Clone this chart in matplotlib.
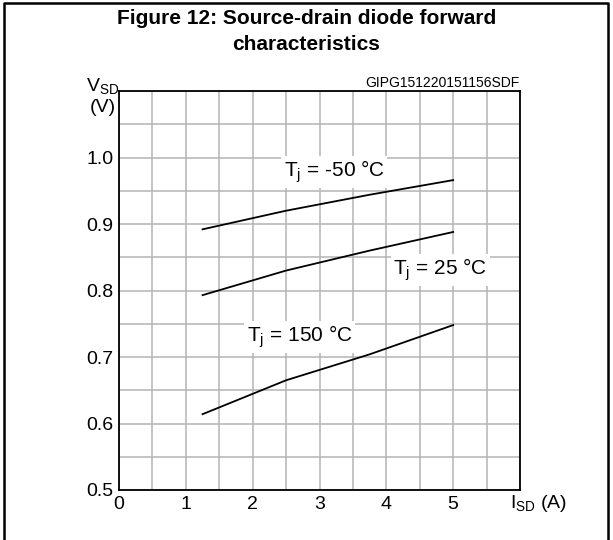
import numpy as np
import matplotlib.pyplot as plt
from matplotlib.lines import Line2D

plt.rcParams['font.family'] = ['Liberation Sans', 'DejaVu Sans']
plt.rcParams['mathtext.fontset'] = 'custom'
plt.rcParams['mathtext.rm'] = 'Liberation Sans'

# data
isd = [1.25, 2.5, 3.75, 5.0]
vsd_m50 = [0.892, 0.920, 0.944, 0.966]
vsd_25 = [0.793, 0.830, 0.860, 0.888]
vsd_150 = [0.614, 0.665, 0.704, 0.748]
x_ticks = [0, 1, 2, 3, 4, 5]
y_ticks = [0.5, 0.6, 0.7, 0.8, 0.9, 1.0]

fig = plt.figure(figsize=(6.13, 5.40), dpi=100)
ax = fig.add_axes([119 / 613, 1 - 490 / 540, 401 / 613, 399 / 540])

ax.set_xlim(0, 6)
ax.set_ylim(0.5, 1.1)
ax.set_xticks(np.arange(0, 6.01, 0.5), minor=True)
ax.set_yticks(np.arange(0.5, 1.101, 0.05), minor=True)
ax.set_xticks(x_ticks)
ax.set_yticks(y_ticks)
ax.set_xticklabels([str(t) for t in x_ticks])
ax.set_yticklabels(['%.1f' % t for t in y_ticks])
ax.grid(True, which='both', color='#b4b4b4', linewidth=1.1)
ax.set_axisbelow(True)
ax.tick_params(which='both', length=0, labelsize=14, pad=4)
for s in ax.spines.values():
    s.set_linewidth(1.3)

for v in [vsd_m50, vsd_25, vsd_150]:
    ax.plot(isd, v, color='black', linewidth=1.3)

box = dict(facecolor='white', edgecolor='none', pad=2)
ax.text(3.22, 0.978, r'$\mathregular{T_j}$ = -50 °C', fontsize=15,
        ha='center', va='center', bbox=box)
ax.text(4.81, 0.831, r'$\mathregular{T_j}$ = 25 °C', fontsize=15,
        ha='center', va='center', bbox=box)
ax.text(2.70, 0.730, r'$\mathregular{T_j}$ = 150 °C', fontsize=15,
        ha='center', va='center', bbox=box)

ax.text(1.0, 1.003, 'GIPG151220151156SDF', transform=ax.transAxes,
        fontsize=10, ha='right', va='bottom')
fig.text(103 / 613, 1 - 86 / 540, r'$\mathregular{V_{SD}}$', fontsize=14,
         ha='center', va='center')
fig.text(103 / 613, 1 - 107 / 540, '(V)', fontsize=14, ha='center', va='center')
fig.text(510 / 613, 1 - 503 / 540, r'$\mathregular{I_{SD}}$ (A)', fontsize=14,
         ha='left', va='center')

fig.text(0.5, 1 - 18 / 540, 'Figure 12: Source-drain diode forward',
         fontsize=15, fontweight='bold', ha='center', va='center')
fig.text(0.5, 1 - 45 / 540, 'characteristics',
         fontsize=15, fontweight='bold', ha='center', va='center')

# outer frame
xl, xr, yt = 3.5 / 613, 608 / 613, 1 - 2.5 / 540
fig.add_artist(Line2D([xl, xl, xr, xr], [0, yt, yt, 0], color='black',
                      linewidth=1.8, transform=fig.transFigure))

fig.savefig('out.png', dpi=100)
